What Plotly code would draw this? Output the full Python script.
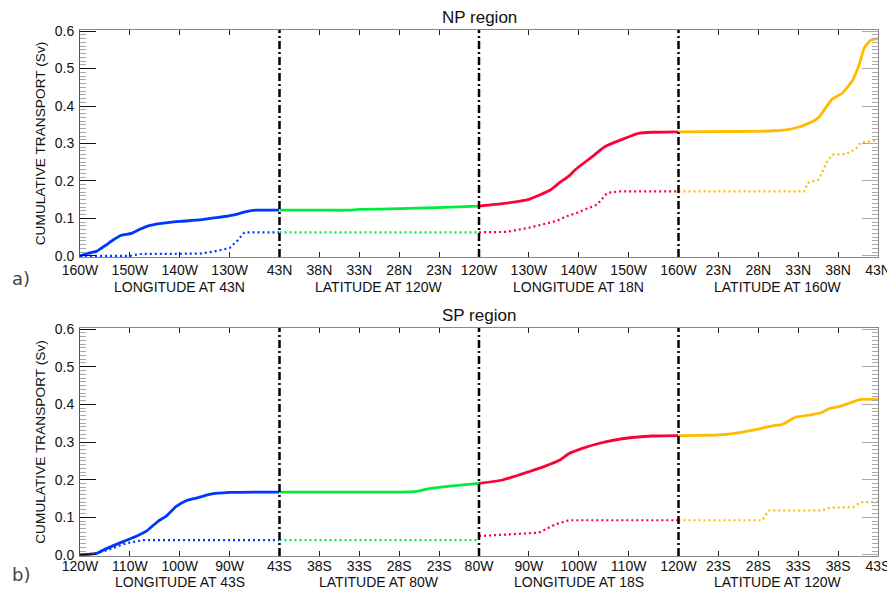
import plotly.graph_objects as go

# ---------------- DATA ----------------
# NP region (panel a)
np_lon43_x = [160, 158, 156.7, 155, 153.3, 151.7, 149.7, 148, 146.3, 144, 140, 136, 132.7, 129.3, 126.7, 124.7, 120]
np_lon43_total = [0.0, 0.008, 0.012, 0.027, 0.043, 0.055, 0.06, 0.071, 0.08, 0.086, 0.092, 0.096, 0.102, 0.109, 0.118, 0.122, 0.122]
np_lon43_dx = [160, 150, 148, 136, 133, 130, 128.5, 127, 120]
np_lon43_dot = [0.0, 0.0, 0.005, 0.006, 0.012, 0.021, 0.04, 0.063, 0.063]

np_lat120_x = [43, 38, 34.5, 33, 28, 23.3, 18]
np_lat120_total = [0.122, 0.122, 0.122, 0.124, 0.126, 0.129, 0.133]
np_lat120_dx = [43, 18]
np_lat120_dot = [0.063, 0.063]

np_lon18_x = [120, 125, 130, 134.2, 136.2, 138.2, 139.3, 142.7, 145.3, 148.7, 152, 154.7, 160]
np_lon18_total = [0.133, 0.140, 0.151, 0.175, 0.196, 0.215, 0.230, 0.265, 0.292, 0.311, 0.327, 0.330, 0.331]
np_lon18_dx = [120, 125.5, 130, 135.5, 138, 139.3, 143.7, 145.7, 148, 160]
np_lon18_dot = [0.063, 0.064, 0.075, 0.093, 0.108, 0.113, 0.137, 0.168, 0.172, 0.172]

np_lat160_x = [18, 25, 30, 31.9, 33.1, 34.4, 35.1, 35.6, 36.5, 37.3, 38.5, 39.8, 40.6, 41.3, 42.1, 43]
np_lat160_total = [0.331, 0.332, 0.334, 0.338, 0.344, 0.355, 0.362, 0.370, 0.397, 0.419, 0.434, 0.468, 0.508, 0.556, 0.576, 0.580]
np_lat160_dx = [18, 33.75, 34.2, 35.6, 36.5, 37.3, 39, 40.2, 40.8, 43]
np_lat160_dot = [0.172, 0.172, 0.195, 0.204, 0.248, 0.270, 0.272, 0.285, 0.302, 0.309]

# SP region (panel b)
sp_lon43_x = [120, 116.7, 115, 112.7, 109.3, 106.7, 104.3, 102.7, 100.7, 98.7, 96.7, 94, 90, 80]
sp_lon43_total = [0.0, 0.004, 0.015, 0.028, 0.046, 0.063, 0.090, 0.103, 0.129, 0.144, 0.151, 0.161, 0.166, 0.167]
sp_lon43_dx = [120, 116.7, 114, 110.7, 107.3, 80]
sp_lon43_dot = [0.0, 0.004, 0.015, 0.031, 0.039, 0.039]

sp_lat80_x = [43, 33, 27.9, 25.8, 24.1, 21.6, 18]
sp_lat80_total = [0.167, 0.167, 0.167, 0.169, 0.177, 0.183, 0.190]
sp_lat80_dx = [43, 18]
sp_lat80_dot = [0.039, 0.039]

sp_lon18_x = [80, 84.7, 90, 93.3, 96.2, 98, 100.7, 104, 106.7, 110.7, 114.7, 120]
sp_lon18_total = [0.190, 0.199, 0.221, 0.236, 0.252, 0.269, 0.283, 0.296, 0.304, 0.312, 0.316, 0.317]
sp_lon18_dx = [80, 84.7, 92, 95.3, 98, 120]
sp_lon18_dot = [0.050, 0.054, 0.059, 0.081, 0.092, 0.092]

sp_lat120_x = [18, 23.1, 25.6, 28.1, 29.8, 31, 32.7, 34.8, 36, 36.9, 38.1, 39.4, 40.8, 43]
sp_lat120_total = [0.317, 0.319, 0.325, 0.335, 0.343, 0.347, 0.366, 0.373, 0.379, 0.389, 0.394, 0.403, 0.413, 0.414]
sp_lat120_dx = [18, 28.5, 29.3, 36, 36.9, 39.9, 40.8, 43]
sp_lat120_dot = [0.092, 0.092, 0.118, 0.118, 0.125, 0.127, 0.140, 0.141]

# Axis ranges and tick labels per section
np_ranges = [[160, 120], [43, 18], [120, 160], [18, 43]]
np_tickvals = [[160, 150, 140, 130, 120], [38, 33, 28, 23, 18], [130, 140, 150, 160], [23, 28, 33, 38, 43]]
np_ticktext = [["160W", "150W", "140W", "130W", "43N"], ["38N", "33N", "28N", "23N", "120W"],
               ["130W", "140W", "150W", "160W"], ["23N", "28N", "33N", "38N", "43N"]]
np_seclabels = ["LONGITUDE AT 43N", "LATITUDE AT 120W", "LONGITUDE AT 18N", "LATITUDE AT 160W"]

sp_ranges = [[120, 80], [43, 18], [80, 120], [18, 43]]
sp_tickvals = [[120, 110, 100, 90, 80], [38, 33, 28, 23, 18], [90, 100, 110, 120], [23, 28, 33, 38, 43]]
sp_ticktext = [["120W", "110W", "100W", "90W", "43S"], ["38S", "33S", "28S", "23S", "80W"],
               ["90W", "100W", "110W", "120W"], ["23S", "28S", "33S", "38S", "43S"]]
sp_seclabels = ["LONGITUDE AT 43S", "LATITUDE AT 80W", "LONGITUDE AT 18S", "LATITUDE AT 120W"]

y_tickvals = [0, 0.1, 0.2, 0.3, 0.4, 0.5, 0.6]
y_ticktext = ["0.0", "0.1", "0.2", "0.3", "0.4", "0.5", "0.6"]

panel_titles = ["NP region", "SP region"]
panel_letters = ["a)", "b)"]
seg_colors = ["#0037ff", "#00ec3c", "#ff0035", "#ffbb00"]

# --------------- FIGURE ---------------
panels = [
    dict(total=[(np_lon43_x, np_lon43_total), (np_lat120_x, np_lat120_total), (np_lon18_x, np_lon18_total), (np_lat160_x, np_lat160_total)],
         dot=[(np_lon43_dx, np_lon43_dot), (np_lat120_dx, np_lat120_dot), (np_lon18_dx, np_lon18_dot), (np_lat160_dx, np_lat160_dot)],
         ranges=np_ranges, tv=np_tickvals, tt=np_ticktext, lab=np_seclabels, standoff=0, labshift=-20),
    dict(total=[(sp_lon43_x, sp_lon43_total), (sp_lat80_x, sp_lat80_total), (sp_lon18_x, sp_lon18_total), (sp_lat120_x, sp_lat120_total)],
         dot=[(sp_lon43_dx, sp_lon43_dot), (sp_lat80_dx, sp_lat80_dot), (sp_lon18_dx, sp_lon18_dot), (sp_lat120_dx, sp_lat120_dot)],
         ranges=sp_ranges, tv=sp_tickvals, tt=sp_ticktext, lab=sp_seclabels, standoff=-3, labshift=-16),
]

# the page body has an 8px margin at left/top; the figure fills the rest of the window
OFF = 8
W, H = 895 - OFF, 592 - OFF
PL, PR, PT, PB = 80, 878, 30, 556          # plot area in window pixels
ML, MR, MT, MB = PL - OFF, (W + OFF) - PR, PT - OFF, (H + OFF) - PB
plot_h = H - MT - MB
ydomains = [[(PB - 257) / plot_h, 1.0], [0.0, (PB - 328) / plot_h]]

FONT = "Liberation Sans, Arial, sans-serif"
tickfont = dict(family=FONT, size=14, color="#111")

fig = go.Figure()
layout = dict(
    width=W, height=H, margin=dict(l=ML, r=MR, t=MT, b=MB, autoexpand=False),
    paper_bgcolor="white", plot_bgcolor="white", showlegend=False,
    font=dict(family=FONT, size=14, color="#111"),
)
shapes = []
annotations = []

for p, pan in enumerate(panels):
    yname = "y" if p == 0 else "y2"
    ykey = "yaxis" if p == 0 else "yaxis2"
    for s in range(4):
        k = p * 4 + s + 1
        xname = "x" if k == 1 else f"x{k}"
        xkey = "xaxis" if k == 1 else f"xaxis{k}"
        layout[xkey] = dict(
            domain=[s / 4, (s + 1) / 4], anchor=yname, range=pan["ranges"][s],
            tickmode="array", tickvals=pan["tv"][s], ticktext=pan["tt"][s],
            ticks="inside", ticklen=5, tickwidth=1, tickcolor="#222",
            showline=True, linecolor="#888", linewidth=1, mirror="ticks",
            showgrid=False, zeroline=False, tickfont=tickfont, ticklabelstandoff=pan["standoff"],
        )
        tx, ty = pan["total"][s]
        dx, dy = pan["dot"][s]
        fig.add_trace(go.Scatter(x=tx, y=ty, xaxis=xname, yaxis=yname, mode="lines",
                                 line=dict(color=seg_colors[s], width=2.8, shape="spline", smoothing=0.5),
                                 hoverinfo="skip"))
        fig.add_trace(go.Scatter(x=dx, y=dy, xaxis=xname, yaxis=yname, mode="lines",
                                 line=dict(color=seg_colors[s], width=2.2, dash="2px,3px"),
                                 hoverinfo="skip"))
        annotations.append(dict(text=pan["lab"][s], xref=f"{xname} domain", yref=f"{yname} domain",
                                x=0.5, y=0, yanchor="top", xanchor="center", yshift=pan["labshift"],
                                showarrow=False, font=dict(family=FONT, size=14, color="#111")))
        if s > 0:
            shapes.append(dict(type="line", xref=f"{xname} domain", yref=f"{yname} domain",
                               x0=0, x1=0, y0=0, y1=1,
                               line=dict(color="black", width=2.5, dash="8px,3px,2px,3px"), layer="above"))

    layout[ykey] = dict(
        domain=ydomains[p], anchor="x" if p == 0 else "x5", range=[-0.003, 0.603],
        tickmode="array", tickvals=y_tickvals, ticktext=y_ticktext,
        ticks="inside", ticklen=16, tickwidth=1, tickcolor="#111",
        minor=dict(dtick=0.01, tick0=0, ticks="inside", ticklen=6, tickcolor="#aaa", tickwidth=1),
        showline=True, linecolor="#555", linewidth=1, showgrid=False, zeroline=False,
        tickfont=tickfont, ticklabelstandoff=2,
        title=dict(text="CUMULATIVE TRANSPORT (Sv)", font=dict(family=FONT, size=13.7, color="#111"), standoff=5),
    )
    rkey = "yaxis3" if p == 0 else "yaxis4"
    layout[rkey] = dict(
        domain=ydomains[p], anchor="x4" if p == 0 else "x8", overlaying=yname, side="right",
        range=[-0.003, 0.603], tickmode="array", tickvals=y_tickvals,
        ticks="inside", ticklen=16, tickwidth=1, tickcolor="#aaa", showticklabels=False,
        minor=dict(dtick=0.01, tick0=0, ticks="inside", ticklen=6, tickcolor="#aaa", tickwidth=1),
        showline=True, linecolor="#888", linewidth=1, showgrid=False, zeroline=False,
    )
    annotations.append(dict(text=panel_titles[p], xref="paper", yref=f"{yname} domain", x=0.5, y=1,
                            yanchor="bottom", xanchor="center", yshift=1, showarrow=False,
                            font=dict(family=FONT, size=17, color="#111")))
    annotations.append(dict(text=panel_letters[p], xref="paper", yref=f"{yname} domain",
                            x=-ML / (W - ML - MR), y=0, xanchor="left", yanchor="middle",
                            xshift=2, yshift=-21 if p == 0 else -18, showarrow=False,
                            font=dict(family="DejaVu Sans, sans-serif", size=18, color="#444")))

# placeholder traces so the right-hand mirror axes are drawn
fig.add_trace(go.Scatter(x=[None], y=[None], xaxis="x4", yaxis="y3", showlegend=False, hoverinfo="skip"))
fig.add_trace(go.Scatter(x=[None], y=[None], xaxis="x8", yaxis="y4", showlegend=False, hoverinfo="skip"))

layout["shapes"] = shapes
layout["annotations"] = annotations
fig.update_layout(**layout)
fig.write_html("out.html")
